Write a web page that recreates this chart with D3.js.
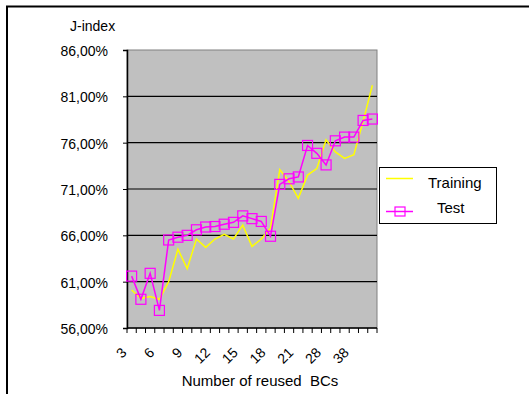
<!DOCTYPE html>
<html>
<head>
<meta charset="utf-8">
<script src="https://cdn.jsdelivr.net/npm/d3@7"></script>
<style>
  body { margin: 0; background: #fff; }
  text { font-family: Arial, "Liberation Sans", sans-serif; fill: #000; }
</style>
</head>
<body>
<svg id="chart" width="529" height="394"></svg>
<script>
// Number of reused BCs (x categories)
var categories = [3, 4, 5, 6, 7, 8, 9, 10, 11, 12, 13, 14, 15, 16, 17, 18, 19, 20, 21, 24, 26, 28, 30, 35, 38, 40, 45];
// J-index values in percent
var training = [60.1, 59.2, 59.4, 59.1, 61.0, 64.5, 62.4, 65.6, 64.7, 65.6, 66.1, 65.6, 67.1, 64.8, 65.6, 66.8, 73.1, 71.8, 70.0, 72.5, 73.2, 76.3, 75.0, 74.3, 74.7, 78.3, 82.2];
var test = [61.6, 59.1, 61.9, 57.9, 65.5, 65.8, 66.0, 66.6, 66.9, 66.95, 67.2, 67.4, 68.1, 67.8, 67.5, 65.9, 71.5, 72.1, 72.3, 75.7, 74.85, 73.6, 76.2, 76.6, 76.6, 78.4, 78.55];
var yTicks = [56, 61, 66, 71, 76, 81, 86];
var xLabels = [3, 6, 9, 12, 15, 18, 21, 28, 38];

var plot = { left: 127, right: 377, top: 50, bottom: 328 };

var svg = d3.select('#chart');

// outer chart frame (only top and left edges show)
svg.append('path')
  .attr('d', 'M7,394 V6.5 H529')
  .attr('fill', 'none')
  .attr('stroke', '#000')
  .attr('stroke-width', 2);

var x = d3.scaleBand()
  .domain(categories)
  .range([plot.left, plot.right])
  .padding(0);

var y = d3.scaleLinear()
  .domain([56, 86])
  .range([plot.bottom, plot.top]);

// grey plot area
svg.append('rect')
  .attr('x', plot.left)
  .attr('y', plot.top)
  .attr('width', plot.right - plot.left)
  .attr('height', plot.bottom - plot.top)
  .attr('fill', '#c0c0c0')
  .attr('stroke', '#808080')
  .attr('stroke-width', 1);

// horizontal grid lines
svg.append('g')
  .selectAll('line')
  .data(yTicks.filter(function(d) { return d > 56 && d < 86; }))
  .enter()
  .append('line')
  .attr('x1', plot.left)
  .attr('x2', plot.right)
  .attr('y1', function(d) { return y(d); })
  .attr('y2', function(d) { return y(d); })
  .attr('stroke', '#000')
  .attr('stroke-width', 1.2);

// y axis
var yAxis = svg.append('g')
  .attr('transform', 'translate(' + plot.left + ',0)')
  .call(d3.axisLeft(y)
    .tickValues(yTicks)
    .tickSize(4)
    .tickPadding(15)
    .tickFormat(function(d) { return d.toFixed(2).replace('.', ',') + '%'; }));
yAxis.select('.domain').attr('stroke', '#000').attr('stroke-width', 1.5);
yAxis.selectAll('line').attr('stroke', '#000');
yAxis.selectAll('text')
  .style('font-size', '14px')
  .style('font-family', 'Arial, "Liberation Sans", sans-serif')
  .attr('dy', '0.4em');

// x axis line + tick marks between categories
var xAxis = svg.append('g');
xAxis.append('line')
  .attr('x1', plot.left)
  .attr('x2', plot.right)
  .attr('y1', plot.bottom)
  .attr('y2', plot.bottom)
  .attr('stroke', '#000')
  .attr('stroke-width', 1.5);
xAxis.selectAll('.xtick')
  .data(categories.map(function(d) { return x(d); }).concat([plot.right]))
  .enter()
  .append('line')
  .attr('class', 'xtick')
  .attr('x1', function(d) { return d; })
  .attr('x2', function(d) { return d; })
  .attr('y1', plot.bottom)
  .attr('y2', plot.bottom + 5)
  .attr('stroke', '#000');

// rotated category labels
xAxis.selectAll('.xlabel')
  .data(xLabels)
  .enter()
  .append('text')
  .attr('class', 'xlabel')
  .attr('transform', function(d) {
    return 'translate(' + (x(d) + x.bandwidth() / 2 - 7.5) + ',' + 350 + ') rotate(-45)';
  })
  .attr('text-anchor', 'end')
  .attr('dy', '0.35em')
  .style('font-size', '14px')
  .text(function(d) { return d; });

// axis titles
svg.append('text')
  .attr('x', 70)
  .attr('y', 31)
  .style('font-size', '14px')
  .text('J-index');

svg.append('text')
  .attr('x', 260)
  .attr('y', 386)
  .attr('text-anchor', 'middle')
  .style('font-size', '15px')
  .style('white-space', 'pre')
  .text('Number of reused  BCs');

// lines
var line = d3.line()
  .x(function(d, i) { return x(categories[i]) + x.bandwidth() / 2; })
  .y(function(d) { return y(d); });

svg.append('path')
  .datum(training)
  .attr('d', line)
  .attr('fill', 'none')
  .attr('stroke', '#ffff00')
  .attr('stroke-width', 1.5);

svg.append('path')
  .datum(test)
  .attr('d', line)
  .attr('fill', 'none')
  .attr('stroke', '#ff00ff')
  .attr('stroke-width', 1.5);

// square markers for Test
svg.selectAll('.marker')
  .data(test)
  .enter()
  .append('rect')
  .attr('class', 'marker')
  .attr('x', function(d, i) { return x(categories[i]) + x.bandwidth() / 2 - 5; })
  .attr('y', function(d) { return y(d) - 5; })
  .attr('width', 10)
  .attr('height', 10)
  .attr('fill', 'none')
  .attr('stroke', '#ff00ff')
  .attr('stroke-width', 1.2);

// legend
var legend = svg.append('g');
legend.append('rect')
  .attr('x', 379.5)
  .attr('y', 167.5)
  .attr('width', 117)
  .attr('height', 56)
  .attr('fill', '#fff')
  .attr('stroke', '#000')
  .attr('stroke-width', 1);

legend.append('line')
  .attr('x1', 386).attr('x2', 413)
  .attr('y1', 178.5).attr('y2', 178.5)
  .attr('stroke', '#ffff00')
  .attr('stroke-width', 1.5);
legend.append('text')
  .attr('x', 428)
  .attr('y', 188)
  .style('font-size', '15px')
  .text('Training');

legend.append('line')
  .attr('x1', 386).attr('x2', 413)
  .attr('y1', 211.5).attr('y2', 211.5)
  .attr('stroke', '#ff00ff')
  .attr('stroke-width', 1.5);
legend.append('rect')
  .attr('x', 395).attr('y', 207)
  .attr('width', 10).attr('height', 9)
  .attr('fill', 'none')
  .attr('stroke', '#ff00ff')
  .attr('stroke-width', 1.2);
legend.append('text')
  .attr('x', 437)
  .attr('y', 213)
  .style('font-size', '15px')
  .text('Test');
</script>
</body>
</html>
